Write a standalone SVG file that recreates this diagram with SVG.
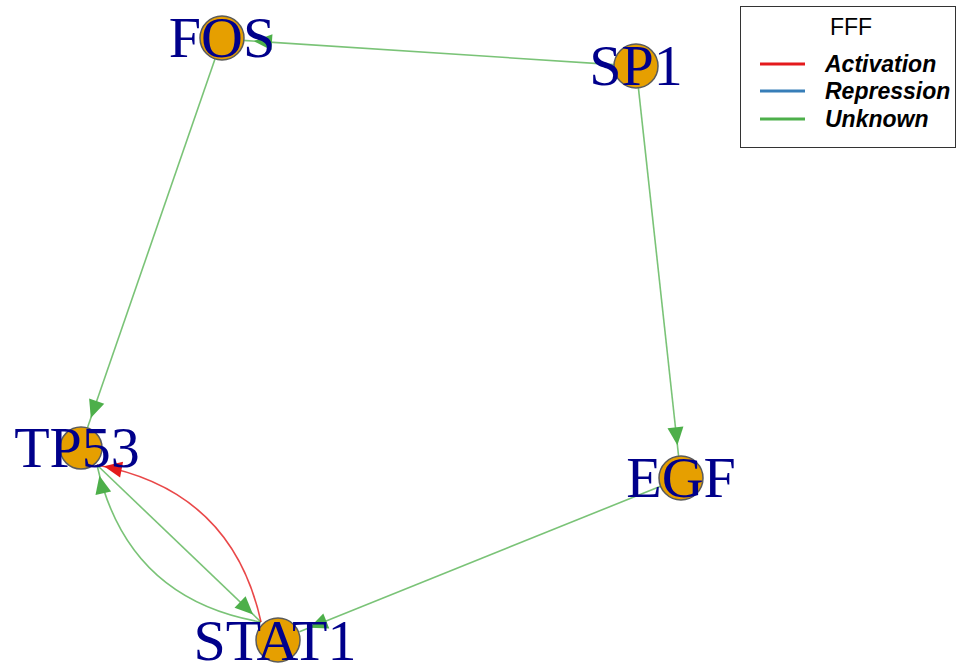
<svg xmlns="http://www.w3.org/2000/svg" width="957" height="669" viewBox="0 0 957 669">
<style>
.edge{fill:none;stroke-width:1.6;}
.g{stroke:#4DAF4A;stroke-opacity:0.75;}
.r{stroke:#E41A1C;stroke-opacity:0.8;}
.node circle{fill:#E69F00;stroke:#5b5b5b;stroke-width:1.5;}
.node text{font-family:"Liberation Serif","Times New Roman",serif;font-size:58px;fill:#00008B;text-anchor:middle;}
.leg{font-family:"Liberation Sans",Arial,sans-serif;font-size:23px;fill:#000;}
</style>
<defs>
<marker id="ag" markerUnits="userSpaceOnUse" overflow="visible" orient="auto" refX="29" refY="0" markerWidth="30" markerHeight="16">
<path d="M0,-8 L18,0 L0,8 Z" fill="#4DAF4A"/>
</marker>
<marker id="ar" markerUnits="userSpaceOnUse" overflow="visible" orient="auto" refX="25" refY="0" markerWidth="30" markerHeight="16">
<path d="M0,-8 L18,0 L0,8 Z" fill="#E41A1C"/>
</marker>
</defs>
<rect width="957" height="669" fill="#fff"/>
<g id="edges">
<path class="edge g" d="M614,64.6 L243,40.4" marker-end="url(#ag)"/>
<path class="edge g" d="M638.4,87.9 L678.6,456.1" marker-end="url(#ag)"/>
<path class="edge g" d="M215,59 L87.2,428.5" marker-end="url(#ag)"/>
<path class="edge g" d="M660.6,486.2 L299.4,631.8" marker-end="url(#ag)"/>
<path class="edge g" d="M97,465 L261,622" marker-end="url(#ag)"/>
<path class="edge g" d="M261,622 Q126.8,598.9 97,465" marker-end="url(#ag)"/>
<path class="edge r" d="M261,622 Q232,490 97,465" marker-end="url(#ar)"/>
</g>
<g id="node-FOS" class="node"><circle cx="222" cy="38" r="22"/><text x="222" y="57">FOS</text></g>
<g id="node-SP1" class="node"><circle cx="636" cy="66" r="22"/><text x="636" y="85">SP1</text></g>
<g id="node-TP53" class="node"><circle cx="81" cy="448" r="21"/><text x="77" y="467">TP53</text></g>
<g id="node-EGF" class="node"><circle cx="681" cy="478" r="22"/><text x="681" y="497">EGF</text></g>
<g id="node-STAT1" class="node"><circle cx="278" cy="640" r="22"/><text x="275" y="660">STAT1</text></g>
<g id="legend">
<rect x="740.5" y="6.5" width="215" height="141" fill="#fff" stroke="#333" stroke-width="1"/>
<text class="leg" x="851" y="35" text-anchor="middle" font-size="21">FFF</text>
<line x1="760" y1="64" x2="805" y2="64" stroke="#E41A1C" stroke-width="3"/>
<line x1="760" y1="91" x2="805" y2="91" stroke="#377EB8" stroke-width="3"/>
<line x1="760" y1="119" x2="805" y2="119" stroke="#4DAF4A" stroke-width="3"/>
<text class="leg" x="825" y="72" font-weight="bold" font-style="italic">Activation</text>
<text class="leg" x="825" y="99" font-weight="bold" font-style="italic">Repression</text>
<text class="leg" x="825" y="127" font-weight="bold" font-style="italic">Unknown</text>
</g>
</svg>
